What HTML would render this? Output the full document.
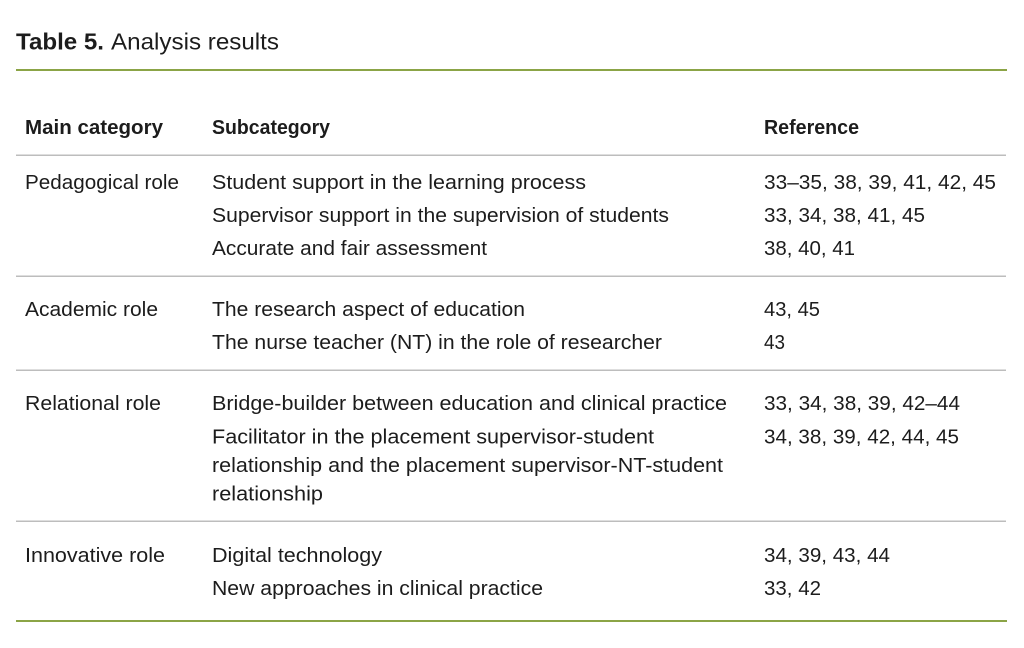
<!DOCTYPE html>
<html>
<head>
<meta charset="utf-8">
<style>
  html, body { margin: 0; padding: 0; background: #ffffff; }
  svg { display: block; }
  text { font-family: "Liberation Sans", Arial, sans-serif; fill: #1c1c1c; }
  .b { font-size: 20px; }
  .h { font-size: 20px; font-weight: bold; }
</style>
</head>
<body>
<svg width="1024" height="648" viewBox="0 0 1024 648" xmlns="http://www.w3.org/2000/svg">
  <rect width="1024" height="648" fill="#ffffff"/>

  <!-- Title -->
  <text x="16" y="49.5" font-size="23" font-weight="bold" textLength="88" lengthAdjust="spacingAndGlyphs">Table 5.</text>
  <text x="111" y="49.5" font-size="23" textLength="168" lengthAdjust="spacingAndGlyphs">Analysis results</text>

  <!-- Lines -->
  <rect x="16" y="69" width="991" height="2" fill="#8ba446"/>
  <rect x="16" y="154.5" width="990" height="1.5" fill="#bdbdbd"/>
  <rect x="16" y="275.5" width="990" height="1.5" fill="#bdbdbd"/>
  <rect x="16" y="369.5" width="990" height="1.5" fill="#bdbdbd"/>
  <rect x="16" y="520.5" width="990" height="1.5" fill="#bdbdbd"/>
  <rect x="16" y="620" width="991" height="2" fill="#8ba446"/>

  <!-- Header -->
  <text class="h" x="25" y="134" textLength="138" lengthAdjust="spacingAndGlyphs">Main category</text>
  <text class="h" x="212" y="134" textLength="118" lengthAdjust="spacingAndGlyphs">Subcategory</text>
  <text class="h" x="764" y="134" textLength="95" lengthAdjust="spacingAndGlyphs">Reference</text>

  <!-- Pedagogical -->
  <text class="b" x="25" y="189" textLength="154" lengthAdjust="spacingAndGlyphs">Pedagogical role</text>
  <text class="b" x="212" y="189" textLength="374" lengthAdjust="spacingAndGlyphs">Student support in the learning process</text>
  <text class="b" x="764" y="189" textLength="232" lengthAdjust="spacingAndGlyphs">33–35, 38, 39, 41, 42, 45</text>

  <text class="b" x="212" y="222" textLength="457" lengthAdjust="spacingAndGlyphs">Supervisor support in the supervision of students</text>
  <text class="b" x="764" y="222" textLength="161" lengthAdjust="spacingAndGlyphs">33, 34, 38, 41, 45</text>

  <text class="b" x="212" y="255" textLength="275" lengthAdjust="spacingAndGlyphs">Accurate and fair assessment</text>
  <text class="b" x="764" y="255" textLength="91" lengthAdjust="spacingAndGlyphs">38, 40, 41</text>

  <!-- Academic -->
  <text class="b" x="25" y="316" textLength="133" lengthAdjust="spacingAndGlyphs">Academic role</text>
  <text class="b" x="212" y="316" textLength="313" lengthAdjust="spacingAndGlyphs">The research aspect of education</text>
  <text class="b" x="764" y="316" textLength="56" lengthAdjust="spacingAndGlyphs">43, 45</text>

  <text class="b" x="212" y="349" textLength="450" lengthAdjust="spacingAndGlyphs">The nurse teacher (NT) in the role of researcher</text>
  <text class="b" x="764" y="349" textLength="21" lengthAdjust="spacingAndGlyphs">43</text>

  <!-- Relational -->
  <text class="b" x="25" y="410" textLength="136" lengthAdjust="spacingAndGlyphs">Relational role</text>
  <text class="b" x="212" y="410" textLength="515" lengthAdjust="spacingAndGlyphs">Bridge-builder between education and clinical practice</text>
  <text class="b" x="764" y="410" textLength="196" lengthAdjust="spacingAndGlyphs">33, 34, 38, 39, 42–44</text>

  <text class="b" x="212" y="443.5" textLength="442" lengthAdjust="spacingAndGlyphs">Facilitator in the placement supervisor-student</text>
  <text class="b" x="764" y="443.5" textLength="195" lengthAdjust="spacingAndGlyphs">34, 38, 39, 42, 44, 45</text>
  <text class="b" x="212" y="472" textLength="511" lengthAdjust="spacingAndGlyphs">relationship and the placement supervisor-NT-student</text>
  <text class="b" x="212" y="500.5" textLength="111" lengthAdjust="spacingAndGlyphs">relationship</text>

  <!-- Innovative -->
  <text class="b" x="25" y="562" textLength="140" lengthAdjust="spacingAndGlyphs">Innovative role</text>
  <text class="b" x="212" y="562" textLength="170" lengthAdjust="spacingAndGlyphs">Digital technology</text>
  <text class="b" x="764" y="562" textLength="126" lengthAdjust="spacingAndGlyphs">34, 39, 43, 44</text>

  <text class="b" x="212" y="595" textLength="331" lengthAdjust="spacingAndGlyphs">New approaches in clinical practice</text>
  <text class="b" x="764" y="595" textLength="57" lengthAdjust="spacingAndGlyphs">33, 42</text>
</svg>
</body>
</html>
